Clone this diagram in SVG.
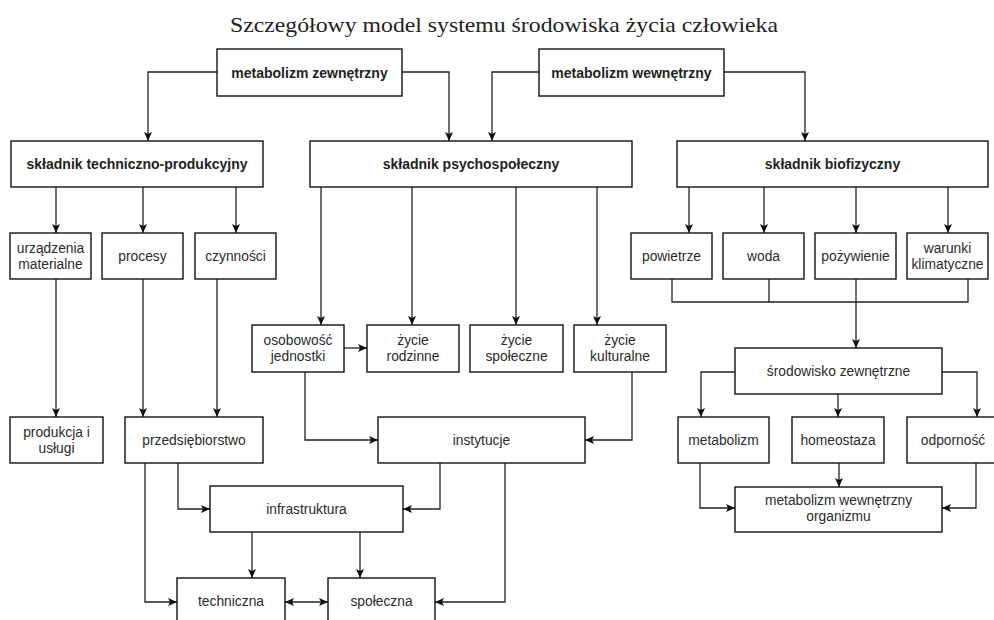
<svg xmlns="http://www.w3.org/2000/svg" width="994" height="620" viewBox="0 0 994 620">
<defs>
<marker id="ah" viewBox="0 0 10 10" refX="9" refY="5" markerWidth="10" markerHeight="10" markerUnits="userSpaceOnUse" orient="auto-start-reverse">
<path d="M0,1 L9,5 L0,9 L2,5 z" fill="#111"/>
</marker>
<style>
.b{fill:#fff;stroke:#111;stroke-width:1.4}
.t{font-family:"Liberation Sans",Arial,sans-serif;font-size:13.8px;fill:#2b2b2b;text-anchor:middle}
.tb{font-family:"Liberation Sans",Arial,sans-serif;font-size:14px;font-weight:bold;fill:#222;text-anchor:middle}
.c{fill:none;stroke:#222;stroke-width:1.3}
.a{marker-end:url(#ah)}
</style>
</defs>
<rect width="994" height="620" fill="#fff"/>
<text x="504" y="32" font-family="Liberation Serif,'Times New Roman',serif" font-size="22" fill="#222" text-anchor="middle" textLength="548" lengthAdjust="spacingAndGlyphs">Szczegółowy model systemu środowiska życia człowieka</text>

<g id="connectors">
<path class="c a" d="M217,72 H148 V141"/>
<path class="c a" d="M402,72 H449 V141"/>
<path class="c a" d="M539,72 H492 V141"/>
<path class="c a" d="M724,72 H805 V141"/>
<path class="c a" d="M56,187 V233"/>
<path class="c a" d="M143,187 V233"/>
<path class="c a" d="M236,187 V233"/>
<path class="c a" d="M321,187 V325"/>
<path class="c a" d="M412,187 V325"/>
<path class="c a" d="M516,187 V325"/>
<path class="c a" d="M597,187 V325"/>
<path class="c a" d="M689,187 V233"/>
<path class="c a" d="M764,187 V233"/>
<path class="c a" d="M856,187 V233"/>
<path class="c a" d="M948,187 V233"/>
<path class="c a" d="M56,279 V417"/>
<path class="c a" d="M143,279 V417"/>
<path class="c a" d="M217,279 V417"/>
<path class="c a" d="M344,348 H367"/>
<path class="c a" d="M305,372 V440 H378"/>
<path class="c a" d="M632,372 V440 H585"/>
<path class="c" d="M672,279 V302 H968 V279 M769,279 V302"/>
<path class="c a" d="M856,279 V348"/>
<path class="c a" d="M735,372 H701 V417"/>
<path class="c a" d="M838,394 V417"/>
<path class="c a" d="M942,372 H977 V417"/>
<path class="c a" d="M700,463 V508 H735"/>
<path class="c a" d="M839,463 V487"/>
<path class="c a" d="M976,463 V508 H942"/>
<path class="c a" d="M178,463 V509 H210"/>
<path class="c a" d="M440,463 V509 H403"/>
<path class="c a" d="M252,532 V578"/>
<path class="c a" d="M360,532 V578"/>
<path class="c a" d="M145,463 V602 H177"/>
<path class="c a" d="M285,602 H328" marker-start="url(#ah)"/>
<path class="c a" d="M505,463 V602 H435"/>
</g>

<g id="metabolizm-zewnetrzny"><rect class="b" x="217" y="49" width="185" height="47"/><text class="tb" x="309.5" y="77.5">metabolizm zewnętrzny</text></g>
<g id="metabolizm-wewnetrzny"><rect class="b" x="539" y="49" width="185" height="47"/><text class="tb" x="631.5" y="77.5">metabolizm wewnętrzny</text></g>
<g id="skladnik-tp"><rect class="b" x="11" y="141" width="252" height="46"/><text class="tb" x="137" y="169">składnik techniczno-produkcyjny</text></g>
<g id="skladnik-ps"><rect class="b" x="310" y="141" width="322" height="46"/><text class="tb" x="471" y="169">składnik psychospołeczny</text></g>
<g id="skladnik-bf"><rect class="b" x="677" y="141" width="311" height="46"/><text class="tb" x="832.5" y="169">składnik biofizyczny</text></g>

<g id="urzadzenia"><rect class="b" x="10" y="233" width="81" height="46"/><text class="t" x="50.5" y="253">urządzenia</text><text class="t" x="50.5" y="269">materialne</text></g>
<g id="procesy"><rect class="b" x="102" y="233" width="81" height="46"/><text class="t" x="142.5" y="261">procesy</text></g>
<g id="czynnosci"><rect class="b" x="195" y="233" width="81" height="46"/><text class="t" x="235.5" y="261">czynności</text></g>

<g id="powietrze"><rect class="b" x="631" y="233" width="81" height="46"/><text class="t" x="671.5" y="261">powietrze</text></g>
<g id="woda"><rect class="b" x="723" y="233" width="81" height="46"/><text class="t" x="763.5" y="261">woda</text></g>
<g id="pozywienie"><rect class="b" x="815" y="233" width="81" height="46"/><text class="t" x="855.5" y="261">pożywienie</text></g>
<g id="warunki"><rect class="b" x="907" y="233" width="81" height="46"/><text class="t" x="947.5" y="253">warunki</text><text class="t" x="947.5" y="269">klimatyczne</text></g>

<g id="osobowosc"><rect class="b" x="252" y="325" width="92" height="47"/><text class="t" x="298" y="345">osobowość</text><text class="t" x="298" y="361">jednostki</text></g>
<g id="zycie-rodzinne"><rect class="b" x="367" y="325" width="92" height="47"/><text class="t" x="413" y="345">życie</text><text class="t" x="413" y="361">rodzinne</text></g>
<g id="zycie-spoleczne"><rect class="b" x="470" y="325" width="93" height="47"/><text class="t" x="516.5" y="345">życie</text><text class="t" x="516.5" y="361">społeczne</text></g>
<g id="zycie-kulturalne"><rect class="b" x="574" y="325" width="92" height="47"/><text class="t" x="620" y="345">życie</text><text class="t" x="620" y="361">kulturalne</text></g>

<g id="srodowisko"><rect class="b" x="735" y="348" width="207" height="46"/><text class="t" x="838.5" y="376">środowisko zewnętrzne</text></g>

<g id="produkcja"><rect class="b" x="10" y="417" width="93" height="46"/><text class="t" x="56.5" y="437">produkcja i</text><text class="t" x="56.5" y="453">usługi</text></g>
<g id="przedsiebiorstwo"><rect class="b" x="125" y="417" width="138" height="46"/><text class="t" x="194" y="445">przedsiębiorstwo</text></g>
<g id="instytucje"><rect class="b" x="378" y="417" width="207" height="46"/><text class="t" x="481.5" y="445">instytucje</text></g>
<g id="metabolizm"><rect class="b" x="678" y="417" width="91" height="46"/><text class="t" x="723.5" y="445">metabolizm</text></g>
<g id="homeostaza"><rect class="b" x="792" y="417" width="92" height="46"/><text class="t" x="838" y="445">homeostaza</text></g>
<g id="odpornosc"><rect class="b" x="907" y="417" width="92" height="46"/><text class="t" x="953" y="445">odporność</text></g>

<g id="infrastruktura"><rect class="b" x="210" y="486" width="193" height="46"/><text class="t" x="306.5" y="514">infrastruktura</text></g>
<g id="metabolizm-organizmu"><rect class="b" x="735" y="487" width="207" height="45"/><text class="t" x="838.5" y="505">metabolizm wewnętrzny</text><text class="t" x="838.5" y="521">organizmu</text></g>

<g id="techniczna"><rect class="b" x="177" y="578" width="108" height="46"/><text class="t" x="231" y="606">techniczna</text></g>
<g id="spoleczna"><rect class="b" x="328" y="578" width="107" height="46"/><text class="t" x="381.5" y="606">społeczna</text></g>
</svg>
